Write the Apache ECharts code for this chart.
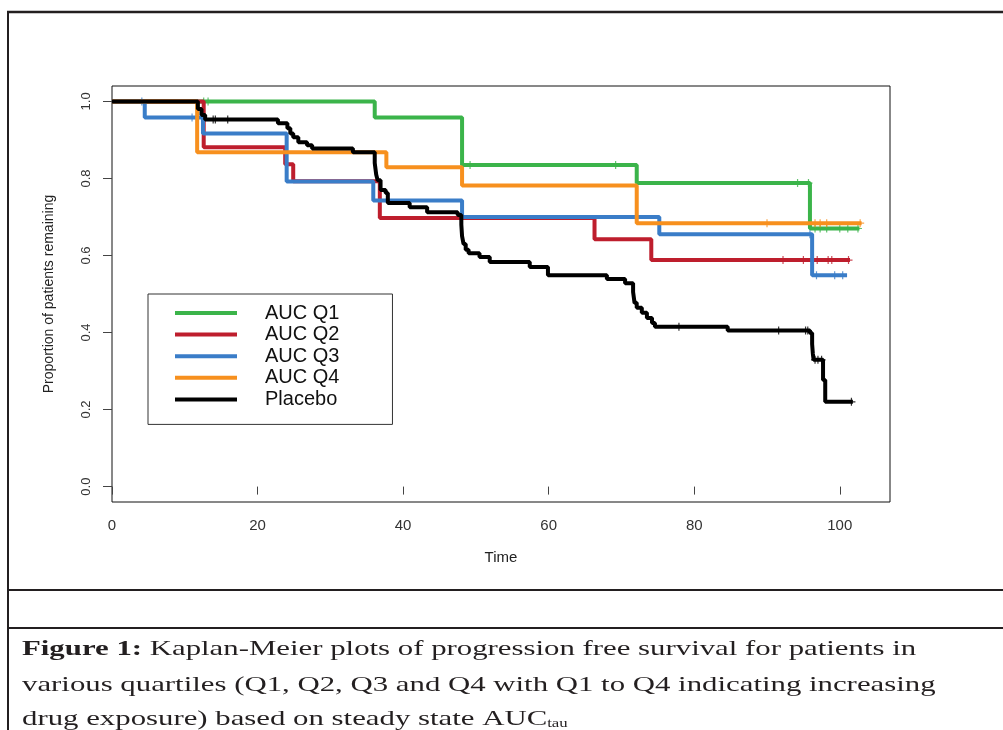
<!DOCTYPE html>
<html>
<head>
<meta charset="utf-8">
<title>Kaplan-Meier PFS by AUC quartile</title>
<script src="https://cdn.jsdelivr.net/npm/echarts@6/dist/echarts.min.js"></script>
<style>
html, body { margin: 0; padding: 0; background: #fff; }
#main { width: 1003px; height: 730px; }
</style>
</head>
<body>
<div id="main"></div>
<script>
// event times / survival after each event
var q1Time = [0, 36.1, 48.1, 72.1, 95.9, 102.7];
var q1Surv = [1.0, 0.958, 0.835, 0.788, 0.67, 0.67];
var q1Cens = [12.6, 13.2, 49.2, 69.2, 94.2, 95.7, 96.6, 97.3, 98.2, 100.0, 101.1, 102.5];

var q2Time = [0, 12.6, 23.8, 24.9, 36.8, 66.3, 74.1, 101.4];
var q2Surv = [1.0, 0.881, 0.837, 0.793, 0.697, 0.642, 0.588, 0.588];
var q2Cens = [92.2, 95.0, 96.3, 96.9, 98.4, 98.9, 101.2];

var q3Time = [0, 4.5, 12.5, 24.0, 35.9, 48.1, 75.2, 96.2, 101.0];
var q3Surv = [1.0, 0.958, 0.917, 0.792, 0.743, 0.700, 0.655, 0.549, 0.549];
var q3Cens = [4.1, 11.0, 95.9, 96.8, 99.3, 100.4];

var q4Time = [0, 11.7, 37.7, 48.1, 72.1, 103.0];
var q4Surv = [1.0, 0.868, 0.829, 0.782, 0.684, 0.684];
var q4Cens = [90.0, 96.6, 97.3, 98.2, 102.8];

var pTime = [0, 11.8, 12.3, 12.8, 22.8, 24.1, 24.5, 24.9, 25.6, 26.8, 27.5, 33.1, 36.1, 36.3, 36.5, 36.9, 37.6, 37.9,
    40.9, 43.3, 47.5, 48.0, 48.1, 48.3, 48.6, 49.0, 50.5, 51.9, 57.4, 59.9, 68.0, 70.5, 71.6, 71.8, 72.1, 72.8, 73.5,
    74.2, 74.6, 84.6, 95.9, 96.2, 96.3, 96.4, 97.7, 98.0, 101.8];
var pSurv = [1.0, 0.98, 0.965, 0.953, 0.943, 0.93, 0.917, 0.907, 0.894, 0.886, 0.878, 0.868, 0.84, 0.81, 0.795, 0.77, 0.762, 0.736,
    0.725, 0.712, 0.705, 0.68, 0.65, 0.63, 0.615, 0.606, 0.596, 0.583, 0.57, 0.549, 0.539, 0.528, 0.505, 0.477, 0.464, 0.451, 0.438,
    0.425, 0.415, 0.405, 0.399, 0.37, 0.345, 0.329, 0.277, 0.22, 0.22];
var pCens = [13.9, 14.2, 15.9, 77.9, 91.6, 95.3, 95.6, 96.6, 97.0, 97.5, 101.6];

var groupNames = ['AUC Q1', 'AUC Q2', 'AUC Q3', 'AUC Q4', 'Placebo'];
var xTicks = [0, 20, 40, 60, 80, 100];
var yTicks = [0, 0.2, 0.4, 0.6, 0.8, 1.0];

var colors = ['#3bb44a', '#be1e2d', '#3a7dc8', '#f7901e', '#000000'];
var groups = [
    [q1Time, q1Surv, q1Cens],
    [q2Time, q2Surv, q2Cens],
    [q3Time, q3Surv, q3Cens],
    [q4Time, q4Surv, q4Cens],
    [pTime, pSurv, pCens]
];

// value of the step curve at time t (censor marks sit on the curve)
function survAt(times, surv, t) {
    var s = surv[0];
    for (var i = 0; i < times.length; i++) {
        if (times[i] <= t) s = surv[i];
    }
    return s;
}

var plusMark = 'path://M3.4,0H4.6V8H3.4ZM0,3.4H8V4.6H0Z';
var series = [];
groups.forEach(function (g, k) {
    var line = g[0].map(function (t, i) { return [t, g[1][i]]; });
    var marks = g[2].map(function (t) { return [t, survAt(g[0], g[1], t)]; });
    series.push({
        name: groupNames[k],
        type: 'line',
        step: 'end',
        showSymbol: false,
        data: line,
        lineStyle: { color: colors[k], width: 4 },
        itemStyle: { color: colors[k] },
        z: 2 + k
    });
    series.push({
        name: groupNames[k] + ' censored',
        type: 'scatter',
        symbol: plusMark,
        symbolSize: 8,
        data: marks,
        itemStyle: { color: colors[k] },
        z: 2 + k
    });
});

var chart = echarts.init(document.getElementById('main'));

var capFont = { fontSize: 22, fontFamily: 'Liberation Serif', fill: '#231f20' };

chart.setOption({
    animation: false,
    backgroundColor: '#fff',
    grid: {
        left: 112, top: 86, width: 778, height: 416,
        show: true, borderColor: '#111', borderWidth: 1
    },
    xAxis: {
        type: 'value',
        min: 0,
        max: 106.9,
        axisLine: { show: false },
        splitLine: { show: false },
        axisTick: { show: true, length: 8, customValues: xTicks, lineStyle: { color: '#444' } },
        axisLabel: {
            customValues: xTicks, margin: 16, fontSize: 15,
            fontFamily: 'Liberation Sans', color: '#333'
        },
        name: 'Time',
        nameLocation: 'middle',
        nameGap: 48,
        nameTextStyle: { fontSize: 15, fontFamily: 'Liberation Sans', color: '#222' }
    },
    yAxis: {
        type: 'value',
        min: -0.04,
        max: 1.04,
        axisLine: { show: false },
        splitLine: { show: false },
        axisTick: { show: true, length: 9, customValues: yTicks, lineStyle: { color: '#444' } },
        axisLabel: {
            customValues: yTicks, rotate: 90, margin: 19, fontSize: 13,
            fontFamily: 'Liberation Sans', color: '#333',
            formatter: function (v) { return v.toFixed(1); }
        },
        name: 'Proportion of patients remaining',
        nameLocation: 'middle',
        nameGap: 56,
        nameTextStyle: { fontSize: 14, fontFamily: 'Liberation Sans', color: '#222' }
    },
    legend: {
        data: groupNames,
        orient: 'vertical',
        left: 148,
        top: 294,
        icon: 'rect',
        itemWidth: 62,
        itemHeight: 4,
        itemGap: 1.6,
        padding: [9, 53, 15, 27],
        borderColor: '#333',
        borderWidth: 1,
        selectedMode: false,
        textStyle: {
            fontSize: 20, fontFamily: 'Liberation Sans', color: '#111',
            lineHeight: 20, padding: [0, 0, 0, 23]
        }
    },
    graphic: [
        // frame of the figure box
        { type: 'line', shape: { x1: 7, y1: 12, x2: 1003, y2: 12 }, style: { stroke: '#231f20', lineWidth: 2.5 } },
        { type: 'line', shape: { x1: 8, y1: 11, x2: 8, y2: 730 }, style: { stroke: '#231f20', lineWidth: 2 } },
        { type: 'line', shape: { x1: 7, y1: 590, x2: 1003, y2: 590 }, style: { stroke: '#231f20', lineWidth: 2 } },
        { type: 'line', shape: { x1: 7, y1: 628, x2: 1003, y2: 628 }, style: { stroke: '#231f20', lineWidth: 2 } },
        // caption
        {
            type: 'text', x: 22, y: 638, scaleX: 1.4,
            style: {
                text: '{b|Figure 1:} Kaplan-Meier plots of progression free survival for patients in',
                fontSize: 22, fontFamily: 'Liberation Serif', fill: '#231f20',
                rich: { b: { fontSize: 22, fontFamily: 'Liberation Serif', fontWeight: 'bold', fill: '#231f20' } }
            }
        },
        {
            type: 'text', x: 22, y: 674, scaleX: 1.4,
            style: {
                text: 'various quartiles (Q1, Q2, Q3 and Q4 with Q1 to Q4 indicating increasing',
                fontSize: 22, fontFamily: 'Liberation Serif', fill: '#231f20'
            }
        },
        {
            type: 'text', x: 22, y: 708, scaleX: 1.4,
            style: {
                text: 'drug exposure) based on steady state AUC{s|tau}',
                fontSize: 22, fontFamily: 'Liberation Serif', fill: '#231f20',
                rich: { s: { fontSize: 12, fontFamily: 'Liberation Serif', fill: '#231f20', padding: [10, 0, 0, 0] } }
            }
        }
    ],
    series: series
});
</script>
</body>
</html>
